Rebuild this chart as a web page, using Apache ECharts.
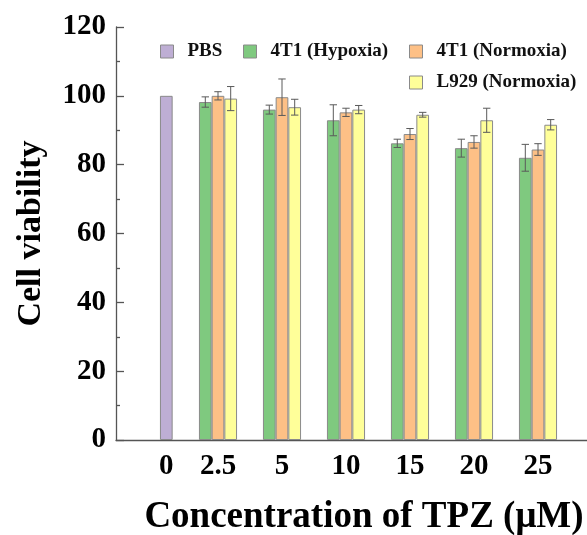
<!DOCTYPE html>
<html>
<head>
<meta charset="utf-8">
<script src="https://cdn.jsdelivr.net/npm/echarts@6/dist/echarts.min.js"></script>
<style>
  html, body { margin: 0; padding: 0; background: #fff; }
  #chart { width: 587px; height: 535px; }
</style>
</head>
<body>
<div id="chart"></div>
<script>
// Control group (untreated) and TPZ concentrations, µM
const controlLabel = ['0'];
const concentrations = ['2.5', '5', '10', '15', '20', '25'];

// Cell viability (%), mean and standard deviation
const pbsValue = [100];
const hypoxia = [98.2, 96.0, 92.9, 86.2, 84.8, 82.0];
const hypoxiaErr = [1.5, 1.3, 4.5, 1.2, 2.6, 3.9];
const normoxia = [100.0, 99.6, 95.2, 88.9, 86.6, 84.4];
const normoxiaErr = [1.2, 5.3, 1.2, 1.6, 1.8, 1.7];
const l929 = [99.2, 96.7, 96.0, 94.5, 92.9, 91.6];
const l929Err = [3.5, 2.3, 1.2, 0.7, 3.5, 1.5];

// Value axis range
const yRange = [0, 120];
const yStep = 20;

const SERIF = "'Liberation Serif', 'Times New Roman', serif";
const AXIS_COLOR = '#555';
const BAR_W = 12.7;
const TOP = 27, BOTTOM = 95;

const colors = {
  pbs: '#beaed4',
  hypoxia: '#7fc97f',
  normoxia: '#fdc086',
  l929: '#ffff99'
};

function barSeries(name, data, color, axisIdx) {
  return {
    name, type: 'bar', data,
    xAxisIndex: axisIdx, yAxisIndex: axisIdx,
    barWidth: BAR_W, barGap: '0%',
    itemStyle: { color, borderColor: '#8a8a8a', borderWidth: 1 },
    emphasis: { disabled: true },
    z: 2
  };
}

// Error bars drawn through the category/value scales of the treatment grid
function errorSeries(name, values, errs, offset) {
  return {
    name, type: 'custom', xAxisIndex: 2, yAxisIndex: 2, z: 5, silent: true,
    data: values.map((v, i) => [i, v - errs[i], v + errs[i]]),
    renderItem(params, api) {
      const lo = api.coord([api.value(0), api.value(1)]);
      const hi = api.coord([api.value(0), api.value(2)]);
      const x = lo[0] + offset;
      const cap = 3.7;
      const style = { stroke: '#5a5a5a', lineWidth: 1 };
      return {
        type: 'group',
        children: [
          { type: 'line', shape: { x1: x, y1: lo[1], x2: x, y2: hi[1] }, style },
          { type: 'line', shape: { x1: x - cap, y1: hi[1], x2: x + cap, y2: hi[1] }, style },
          { type: 'line', shape: { x1: x - cap, y1: lo[1], x2: x + cap, y2: lo[1] }, style }
        ]
      };
    }
  };
}

const legendBase = {
  orient: 'horizontal', padding: 0, itemWidth: 13, itemHeight: 13, icon: 'rect',
  selectedMode: false,
  itemStyle: { borderColor: '#8a8a8a', borderWidth: 1 },
  textStyle: { fontFamily: SERIF, fontWeight: 'bold', fontSize: 19, color: '#111', padding: [0, 0, 0, 9] }
};

const hiddenValueY = (i) => ({
  type: 'value', gridIndex: i, min: yRange[0], max: yRange[1], interval: yStep,
  show: false
});

const option = {
  animation: false,
  backgroundColor: '#fff',
  title: {
    text: 'Concentration of TPZ (μM)',
    left: 359, top: 494, textAlign: 'center',
    textStyle: { fontFamily: SERIF, fontWeight: 'bold', fontSize: 37, color: '#000' }
  },
  legend: [
    Object.assign({}, legendBase, { data: ['PBS'], left: 160, top: 42 }),
    Object.assign({}, legendBase, { data: ['4T1 (Hypoxia)'], left: 243, top: 42 }),
    Object.assign({}, legendBase, { data: ['4T1 (Normoxia)'], left: 409, top: 42 }),
    Object.assign({}, legendBase, { data: ['L929 (Normoxia)'], left: 409, top: 73 })
  ],
  grid: [
    // frame: axes lines, ticks and value labels
    { left: 116, right: 0, top: TOP, bottom: BOTTOM },
    // control column
    { left: 116, width: 100.6, top: TOP, bottom: BOTTOM },
    // treatment groups
    { left: 186, width: 384, top: TOP, bottom: BOTTOM }
  ],
  xAxis: [
    {
      type: 'value', gridIndex: 0, min: 0, max: 1,
      axisLine: { show: true, lineStyle: { color: AXIS_COLOR, width: 1.3 } },
      axisTick: { show: false }, axisLabel: { show: false }, splitLine: { show: false }
    },
    {
      type: 'category', gridIndex: 1, data: controlLabel,
      axisLine: { show: false }, axisTick: { show: false },
      axisLabel: { margin: 12, fontFamily: SERIF, fontWeight: 'bold', fontSize: 29, color: '#000' }
    },
    {
      type: 'category', gridIndex: 2, data: concentrations,
      axisLine: { show: false }, axisTick: { show: false },
      axisLabel: { margin: 12, interval: 0, fontFamily: SERIF, fontWeight: 'bold', fontSize: 29, color: '#000' }
    }
  ],
  yAxis: [
    {
      type: 'value', gridIndex: 0, min: yRange[0], max: yRange[1], interval: yStep,
      name: 'Cell viability', nameLocation: 'middle', nameGap: 68,
      nameTextStyle: { fontFamily: SERIF, fontWeight: 'bold', fontSize: 34, color: '#000' },
      axisLine: { show: true, lineStyle: { color: AXIS_COLOR, width: 1.3 } },
      axisTick: { show: true, inside: true, length: 8, lineStyle: { color: AXIS_COLOR, width: 1.3 } },
      minorTick: { show: true, splitNumber: 2, length: 4, lineStyle: { color: AXIS_COLOR, width: 1.3 } },
      axisLabel: { margin: 10, fontFamily: SERIF, fontWeight: 'bold', fontSize: 29, color: '#000' },
      splitLine: { show: false }
    },
    hiddenValueY(1),
    hiddenValueY(2)
  ],
  series: [
    barSeries('PBS', pbsValue, colors.pbs, 1),
    barSeries('4T1 (Hypoxia)', hypoxia, colors.hypoxia, 2),
    barSeries('4T1 (Normoxia)', normoxia, colors.normoxia, 2),
    barSeries('L929 (Normoxia)', l929, colors.l929, 2),
    errorSeries('hypoxia-sd', hypoxia, hypoxiaErr, -BAR_W),
    errorSeries('normoxia-sd', normoxia, normoxiaErr, 0),
    errorSeries('l929-sd', l929, l929Err, BAR_W)
  ]
};

const chart = echarts.init(document.getElementById('chart'), null, { renderer: 'canvas' });
chart.setOption(option);
</script>
</body>
</html>
